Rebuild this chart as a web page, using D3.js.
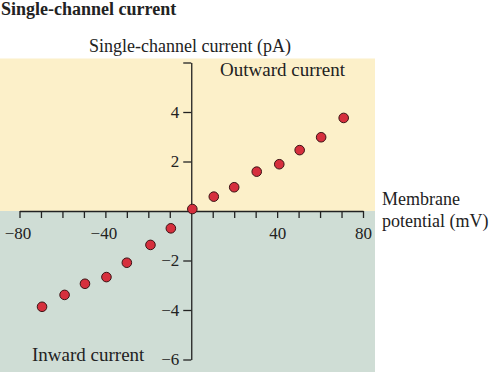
<!DOCTYPE html>
<html>
<head>
<meta charset="utf-8">
<script src="https://cdn.jsdelivr.net/npm/d3@7"></script>
<style>
  html, body { margin: 0; padding: 0; background: #ffffff; }
  svg { display: block; }
  text { font-family: "Liberation Serif", "DejaVu Serif", serif; fill: #222; }
</style>
</head>
<body>
<svg id="chart" width="490" height="374"></svg>
<script>
// ---- data ----
const voltage = [-69.5, -59, -49.5, -39.5, -30, -19, -9.5, 0.5, 10.5, 20, 30.5, 41, 50.5, 60.5, 71];
const current = [-3.87, -3.39, -2.94, -2.67, -2.09, -1.37, -0.70, 0.08, 0.58, 0.96, 1.59, 1.89, 2.46, 2.98, 3.76];
const xTicks = [-80, -70, -60, -50, -40, -30, -20, -10, 10, 20, 30, 40, 50, 60, 70, 80];
const xTickLabels = [-80, -40, 40, 80];
const yTicks = [-6, -4, -2, 2, 4, 6];
const yTickLabels = [-6, -4, -2, 2, 4];

const svg = d3.select("#chart");

const x = d3.scaleLinear().domain([-80, 80]).range([19.5, 363]);
const y = d3.scaleLinear().domain([-6, 6]).range([359.5, 62.5]);

// backgrounds
svg.append("rect").attr("x", 0).attr("y", 58.5).attr("width", 375).attr("height", y(0) - 58.5)
  .attr("fill", "#fcf0c9");
svg.append("rect").attr("x", 0).attr("y", y(0)).attr("width", 375).attr("height", 372 - y(0))
  .attr("fill", "#cfddd5");

// title
svg.append("text").attr("x", 1).attr("y", 15)
  .attr("font-size", 18).attr("font-weight", "bold")
  .text("Single-channel current");

// x axis
const fmt = d3.format("");
const xAxis = d3.axisBottom(x).tickValues(xTicks).tickSize(7).tickSizeOuter(0)
  .tickFormat(d => xTickLabels.includes(d) ? fmt(d) : "");
const gx = svg.append("g").attr("transform", `translate(0,${y(0)})`).call(xAxis)
  .attr("font-size", 17).attr("font-family", "Liberation Serif, serif");
gx.selectAll("path.domain").attr("stroke", "#222").attr("stroke-width", 1.3);
gx.selectAll(".tick line").attr("stroke", "#222").attr("stroke-width", 1.3);
gx.selectAll(".tick text").attr("y", 15.5).attr("dy", "0.71em")
  .attr("dx", d => d < 0 ? -2 : 0).attr("fill", "#222");

// y axis
const yAxis = d3.axisLeft(y).tickValues(yTicks).tickSize(8).tickSizeOuter(0)
  .tickFormat(d => yTickLabels.includes(d) ? fmt(d) : "");
const gy = svg.append("g").attr("transform", `translate(${x(0)},0)`).call(yAxis)
  .attr("font-size", 17).attr("font-family", "Liberation Serif, serif");
gy.selectAll("path.domain").attr("stroke", "#222").attr("stroke-width", 1.3);
gy.selectAll(".tick line").attr("stroke", "#222").attr("stroke-width", 1.3);
gy.selectAll(".tick text").attr("x", -12).attr("fill", "#222");

// axis titles & region labels
svg.append("text").attr("x", 190).attr("y", 52).attr("text-anchor", "middle")
  .attr("font-size", 18).text("Single-channel current (pA)");
svg.append("text").attr("x", 220).attr("y", 76)
  .attr("font-size", 19).text("Outward current");
svg.append("text").attr("x", 32).attr("y", 361)
  .attr("font-size", 19).text("Inward current");
svg.append("text").attr("x", 382).attr("y", 205)
  .attr("font-size", 18).text("Membrane");
svg.append("text").attr("x", 382).attr("y", 227)
  .attr("font-size", 18).text("potential (mV)");

// points
svg.append("g").selectAll("circle")
  .data(voltage.map((v, i) => ({ v, c: current[i] })))
  .join("circle")
  .attr("cx", d => x(d.v))
  .attr("cy", d => y(d.c))
  .attr("r", 4.8)
  .attr("fill", "#d62f3d")
  .attr("stroke", "#3b1416")
  .attr("stroke-width", 1);
</script>
</body>
</html>
